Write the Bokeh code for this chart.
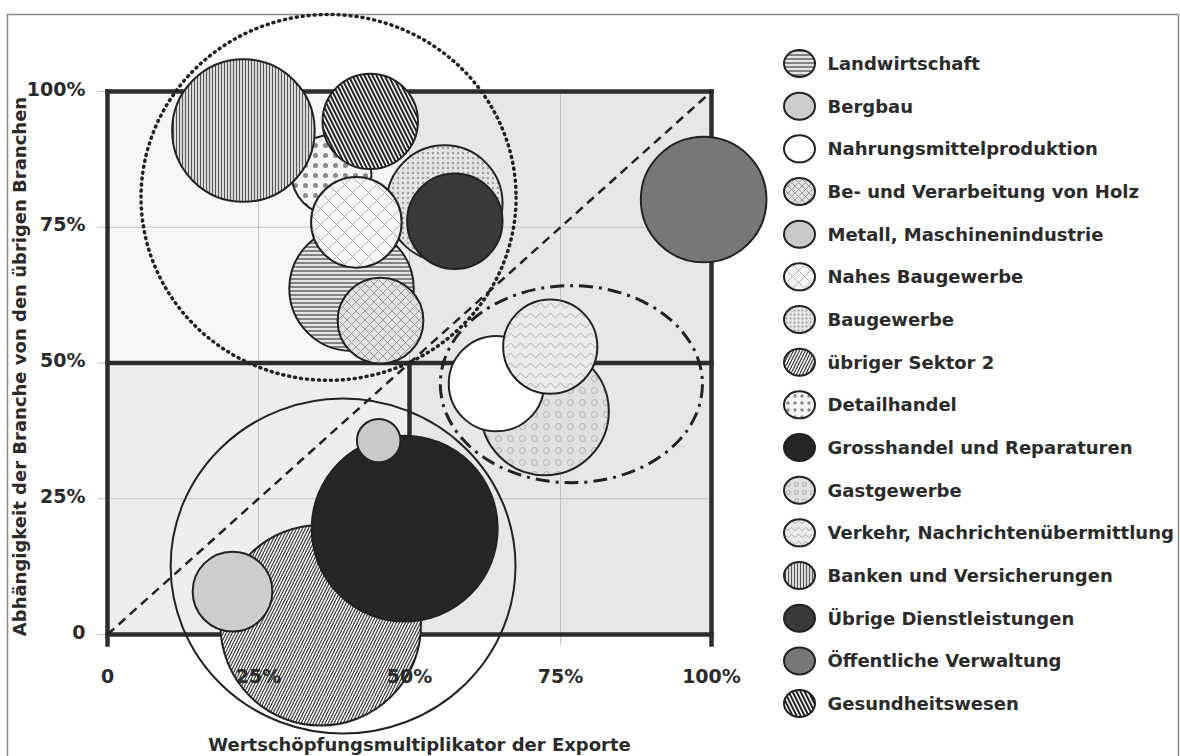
import math
from bokeh.plotting import figure
from bokeh.models import Range1d, ColumnDataSource
from bokeh.core.properties import value
from bokeh.embed import file_html
from bokeh.resources import INLINE

# ---------------- data ----------------
sectors = [
    "Landwirtschaft", "Bergbau", "Nahrungsmittelproduktion",
    "Be- und Verarbeitung von Holz", "Metall, Maschinenindustrie",
    "Nahes Baugewerbe", "Baugewerbe", "übriger Sektor 2", "Detailhandel",
    "Grosshandel und Reparaturen", "Gastgewerbe",
    "Verkehr, Nachrichtenübermittlung", "Banken und Versicherungen",
    "Übrige Dienstleistungen", "Öffentliche Verwaltung", "Gesundheitswesen",
]
# Wertschöpfungsmultiplikator der Exporte (%)
export_multiplier = [40.4, 20.7, 64.4, 45.2, 44.9, 41.2, 55.8, 35.3,
                     37.1, 49.2, 72.4, 73.3, 22.5, 57.5, 98.7, 43.5]
# Abhängigkeit der Branche von den übrigen Branchen (%)
dependency = [63.7, 7.9, 46.2, 57.8, 35.7, 75.9, 79.4, 1.7,
              84.7, 19.5, 41.1, 53.0, 92.8, 76.1, 80.1, 94.5]
# bubble radius (in x-axis %)
bubble_radius = [10.3, 6.6, 7.9, 7.1, 3.6, 7.5, 9.6, 16.6,
                 6.6, 15.4, 10.6, 7.8, 11.8, 7.9, 10.4, 7.9]

# group outlines (centre x, centre y, width, height in axis %)
group_x = [36.6, 76.8, 39.0]
group_y = [80.5, 46.1, 12.6]
group_w = [62.1, 43.4, 57.1]
group_h = [67.4, 36.3, 61.7]

tick_values = [0, 25, 50, 75, 100]
x_tick_labels = ["0", "25%", "50%", "75%", "100%"]
y_tick_labels = ["0", "25%", "50%", "75%", "100%"]

x_title = "Wertschöpfungsmultiplikator der Exporte"
y_title = "Abhängigkeit der Branche von den übrigen Branchen"

# ---------------- styles ----------------
styles = {
    "Landwirtschaft": dict(fill="#e6e6e6", hatch="horizontal_line", hc="#404040", hs=4, hw=1.2),
    "Bergbau": dict(fill="#cdcdcd", hatch=" ", hc="#999999", hs=4, hw=1),
    "Nahrungsmittelproduktion": dict(fill="#ffffff", hatch=" ", hc="#999999", hs=4, hw=1),
    "Be- und Verarbeitung von Holz": dict(fill="#e2e2e2", hatch="diagonal_cross", hc="#9a9a9a", hs=9, hw=1),
    "Metall, Maschinenindustrie": dict(fill="#c9c9c9", hatch=" ", hc="#999999", hs=4, hw=1),
    "Nahes Baugewerbe": dict(fill="#f7f7f7", hatch="diagonal_cross", hc="#b0b0b0", hs=16, hw=1),
    "Baugewerbe": dict(fill="#e4e4e4", hatch="dot", hc="#a0a0a0", hs=5, hw=1),
    "übriger Sektor 2": dict(fill="#ffffff", hatch="right_diagonal_line", hc="#333333", hs=6, hw=1.2),
    "Detailhandel": dict(fill="#f6f6f6", hatch="dot", hc="#8a8a8a", hs=10, hw=3),
    "Grosshandel und Reparaturen": dict(fill="#262626", hatch=" ", hc="#999999", hs=4, hw=1),
    "Gastgewerbe": dict(fill="#e0e0e0", hatch="ring", hc="#b0b0b0", hs=12, hw=1),
    "Verkehr, Nachrichtenübermittlung": dict(fill="#ebebeb", hatch="horizontal_wave", hc="#a8a8a8", hs=10, hw=1),
    "Banken und Versicherungen": dict(fill="#dadada", hatch="vertical_line", hc="#555555", hs=3, hw=1),
    "Übrige Dienstleistungen": dict(fill="#3a3a3a", hatch=" ", hc="#999999", hs=4, hw=1),
    "Öffentliche Verwaltung": dict(fill="#777777", hatch=" ", hc="#999999", hs=4, hw=1),
    "Gesundheitswesen": dict(fill="#ffffff", hatch="left_diagonal_line", hc="#222222", hs=8, hw=2),
}
legend_hatch_scale = {
    "Landwirtschaft": 4, "Be- und Verarbeitung von Holz": 7, "Nahes Baugewerbe": 12,
    "Baugewerbe": 4, "übriger Sektor 2": 6, "Detailhandel": 7, "Gastgewerbe": 8,
    "Verkehr, Nachrichtenübermittlung": 7, "Banken und Versicherungen": 3,
    "Gesundheitswesen": 8,
}

# drawing order (bottom to top)
draw_order = [
    "Gastgewerbe", "Nahrungsmittelproduktion", "Verkehr, Nachrichtenübermittlung",
    "übriger Sektor 2", "Grosshandel und Reparaturen", "Bergbau",
    "Metall, Maschinenindustrie", "Baugewerbe", "Übrige Dienstleistungen",
    "Detailhandel", "Landwirtschaft", "Be- und Verarbeitung von Holz",
    "Nahes Baugewerbe", "Banken und Versicherungen", "Gesundheitswesen",
    "Öffentliche Verwaltung",
]

# ---------------- layout mapping ----------------
W, H = 1180, 756
X_LEFT, PX_PER_X = 107.0, 6.04
Y_BOTTOM, PX_PER_Y = 634.0, 5.43


def px_x(rx):
    return (rx - X_LEFT) / PX_PER_X


def px_y(ry):
    return (Y_BOTTOM - ry) / PX_PER_Y


p = figure(
    width=W, height=H,
    x_range=Range1d(px_x(0), px_x(W)),
    y_range=Range1d(px_y(H), px_y(0)),
    x_axis_type=None, y_axis_type=None,
    toolbar_location=None, output_backend="svg",
    min_border=0, outline_line_color=None,
    background_fill_color="white", border_fill_color="white",
)

FONT = value("DejaVu Sans")
TXT = "#2b2b2b"

# outer frame
p.segment(x0=[px_x(6), px_x(7), px_x(1178)], y0=[px_y(14), px_y(14), px_y(14)],
          x1=[px_x(1178), px_x(7), px_x(1178)], y1=[px_y(14), px_y(H), px_y(H)],
          line_color="#8a8a8a", line_width=1.5)

# quadrant backgrounds
lo, mid, hi = tick_values[0], tick_values[2], tick_values[-1]
p.quad(left=[lo, mid, lo, mid], right=[mid, hi, mid, hi],
       bottom=[mid, mid, lo, lo], top=[hi, hi, mid, mid],
       fill_color=["#f7f7f7", "#e7e7e7", "#eeeeee", "#e7e7e7"], line_color=None)

# grid lines with small stubs outside the box
stub_x = px_x(97)
stub_y = px_y(644)
p.segment(x0=tick_values, y0=[stub_y] * 5, x1=tick_values, y1=[hi] * 5,
          line_color="#c2c2c2", line_width=1)
p.segment(x0=[stub_x] * 5, y0=tick_values, x1=[hi] * 5, y1=tick_values,
          line_color="#c2c2c2", line_width=1)

# thick frame and quadrant dividers
p.segment(x0=[lo, lo, lo, hi, lo, mid], y0=[stub_y, lo, hi, stub_y, mid, lo],
          x1=[lo, hi, hi, hi, hi, mid], y1=[hi, lo, hi, hi, mid, mid],
          line_color="#2d2d2d", line_width=4.5, line_cap="square")

# diagonal
p.line(x=[lo, hi], y=[lo, hi], line_color="#222222", line_width=2.5, line_dash="9 6")

# bubbles
idx = [sectors.index(s) for s in draw_order]
src = ColumnDataSource(dict(
    x=[export_multiplier[i] for i in idx],
    y=[dependency[i] for i in idx],
    r=[bubble_radius[i] for i in idx],
    name=[sectors[i] for i in idx],
    fill=[styles[sectors[i]]["fill"] for i in idx],
    hatch=[styles[sectors[i]]["hatch"] for i in idx],
    hc=[styles[sectors[i]]["hc"] for i in idx],
    hs=[styles[sectors[i]]["hs"] for i in idx],
    hw=[styles[sectors[i]]["hw"] for i in idx],
))
p.circle(x="x", y="y", radius="r", source=src, fill_color="fill",
         hatch_pattern="hatch", hatch_color="hc", hatch_scale="hs", hatch_weight="hw",
         line_color="#222222", line_width=2)

# group outlines
p.ellipse(x=[group_x[0]], y=[group_y[0]], width=[group_w[0]], height=[group_h[0]],
          fill_color=None, line_color="#222222", line_width=3.5, line_dash="1 5", line_cap="round")
p.ellipse(x=[group_x[1]], y=[group_y[1]], width=[group_w[1]], height=[group_h[1]],
          fill_color=None, line_color="#222222", line_width=3, line_dash="14 6 3 6")
p.ellipse(x=[group_x[2]], y=[group_y[2]], width=[group_w[2]], height=[group_h[2]],
          fill_color=None, line_color="#222222", line_width=2)

# tick labels
p.text(x=[px_x(85)] * 5, y=tick_values, text=y_tick_labels, text_font=FONT,
       text_font_style="bold", text_font_size="19px", text_color=TXT,
       text_align="right", text_baseline="middle", y_offset=-3)
p.text(x=tick_values, y=[px_y(675)] * 5, text=x_tick_labels, text_font=FONT,
       text_font_style="bold", text_font_size="19px", text_color=TXT,
       text_align="center", text_baseline="middle")

# axis titles
p.text(x=[px_x(419)], y=[px_y(744)], text=[x_title], text_font=FONT,
       text_font_style="bold", text_font_size="18px", text_color=TXT,
       text_align="center", text_baseline="middle")
p.text(x=[px_x(19)], y=[px_y(366)], text=[y_title], text_font=FONT,
       text_font_style="bold", text_font_size="18px", text_color=TXT,
       text_align="center", text_baseline="middle", angle=math.pi / 2)

# legend (manual)
ROW0, ROWSTEP = 63.0, 42.67
leg_y = [px_y(ROW0 + k * ROWSTEP) for k in range(len(sectors))]
leg_src = ColumnDataSource(dict(
    x=[px_x(799)] * len(sectors), tx=[px_x(827)] * len(sectors), y=leg_y,
    name=sectors,
    fill=[styles[s]["fill"] for s in sectors],
    hatch=[styles[s]["hatch"] for s in sectors],
    hc=[styles[s]["hc"] for s in sectors],
    hs=[legend_hatch_scale.get(s, 4) for s in sectors],
    hw=[styles[s]["hw"] for s in sectors],
))
p.ellipse(x="x", y="y", width=31, height=27, width_units="screen", height_units="screen",
          source=leg_src, fill_color="fill", hatch_pattern="hatch", hatch_color="hc",
          hatch_scale="hs", hatch_weight="hw", line_color="#222222", line_width=2)
p.text(x="tx", y="y", text="name", source=leg_src, text_font=FONT,
       text_font_style="bold", text_font_size="18px", text_color=TXT,
       text_align="left", text_baseline="middle")

open("out.html", "w").write(file_html(p, INLINE))
